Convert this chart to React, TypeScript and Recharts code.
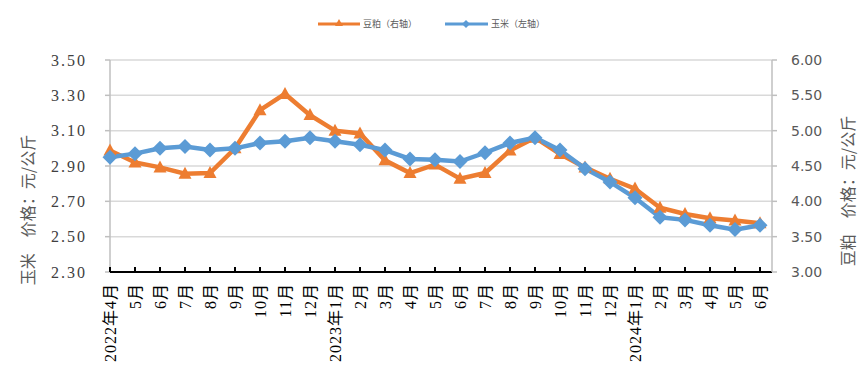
import { LineChart, Line, XAxis, YAxis, CartesianGrid, Legend } from "recharts"

const months = [
  "2022年4月", "5月", "6月", "7月", "8月", "9月", "10月", "11月", "12月",
  "2023年1月", "2月", "3月", "4月", "5月", "6月", "7月", "8月", "9月", "10月", "11月", "12月",
  "2024年1月", "2月", "3月", "4月", "5月", "6月",
]

// 玉米 (左轴)
const corn = [
  2.95, 2.97, 3.0, 3.01, 2.99, 3.0, 3.03, 3.04, 3.06,
  3.04, 3.02, 2.99, 2.94, 2.935, 2.925, 2.975, 3.03, 3.06, 2.99, 2.885, 2.81,
  2.72, 2.61, 2.595, 2.565, 2.54, 2.565,
]

// 豆粕 (右轴)
const soymeal = [
  4.72, 4.55, 4.48, 4.39, 4.4, 4.75, 5.29, 5.52, 5.22,
  5.0, 4.96, 4.58, 4.4, 4.52, 4.32, 4.4, 4.72, 4.9, 4.67, 4.48, 4.32,
  4.18, 3.91, 3.82, 3.76, 3.73, 3.69,
]

const leftTicks = [2.3, 2.5, 2.7, 2.9, 3.1, 3.3, 3.5]
const rightTicks = [3.0, 3.5, 4.0, 4.5, 5.0, 5.5, 6.0]

const data = months.map((m, i) => ({ month: m, corn: corn[i], soymeal: soymeal[i] }))

const ORANGE = "#ED7D31"
const BLUE = "#5B9BD5"
const cjk = '"Noto Sans CJK SC", "Noto Sans", sans-serif'
const serif = '"Liberation Serif", "Noto Sans CJK SC", serif'

const Triangle = (props: any) => {
  const { cx, cy } = props
  if (cx == null || cy == null) return null
  return <path key={props.key} d={`M${cx},${cy - 7} L${cx + 6.5},${cy + 5} L${cx - 6.5},${cy + 5} Z`} fill={ORANGE} />
}

const Diamond = (props: any) => {
  const { cx, cy } = props
  if (cx == null || cy == null) return null
  return <path key={props.key} d={`M${cx},${cy - 7.5} L${cx + 7.5},${cy} L${cx},${cy + 7.5} L${cx - 7.5},${cy} Z`} fill={BLUE} />
}

const MonthTick = (props: any) => {
  const { x, y, payload } = props
  return (
    <g transform={`translate(${x},${y})`}>
      <line x1={0} x2={0} y1={-5} y2={0} stroke="#000" strokeWidth={2} />
      <text
        transform="rotate(-90)"
        x={-11}
        y={0}
        dy="0.35em"
        textAnchor="end"
        fontSize={16}
        letterSpacing={1}
        fontFamily={serif}
        fill="#000"
      >
        {payload.value}
      </text>
    </g>
  )
}

const LegendContent = () => (
  <svg width={865} height={20}>
    <line x1={318} x2={360} y1={10} y2={10} stroke={ORANGE} strokeWidth={3} />
    <path d="M339,5 L343,12 L335,12 Z" fill={ORANGE} />
    <text x={363} y={10} dy="0.35em" fontSize={9} fill="#595959" fontFamily={cjk}>豆粕（右轴）</text>
    <line x1={445} x2={488} y1={10} y2={10} stroke={BLUE} strokeWidth={3} />
    <path d="M466,6 L470,10 L466,14 L462,10 Z" fill={BLUE} />
    <text x={491} y={10} dy="0.35em" fontSize={9} fill="#595959" fontFamily={cjk}>玉米（左轴）</text>
  </svg>
)

export default function App() {
  return (
    <div style={{ position: "absolute", left: 0, top: 0, width: 865, height: 379, background: "#fff" }}>
      <LineChart width={865} height={379} data={data} margin={{ top: 60, right: 0, bottom: 0, left: 0 }}>
        <CartesianGrid yAxisId="left" vertical={false} stroke="#d9d9d9" strokeWidth={1.5} />
        <XAxis
          dataKey="month"
          interval={0}
          height={107}
          tickSize={0}
          tickMargin={0}
          tickLine={false}
          tick={<MonthTick />}
          axisLine={{ stroke: "#000", strokeWidth: 2 }}
          padding={{ left: 0, right: 12 }}
        />
        <YAxis
          yAxisId="left"
          width={110}
          domain={[2.3, 3.5]}
          ticks={leftTicks}
          interval={0}
          tickFormatter={(v: number) => v.toFixed(2)}
          tickSize={5}
          tickMargin={18}
          axisLine={{ stroke: "#bfbfbf", strokeWidth: 1.5 }}
          tickLine={{ stroke: "#bfbfbf", strokeWidth: 1.5 }}
          tick={{ fontSize: 16, fill: "#404040", fontFamily: serif, letterSpacing: 2 }}
          label={() => (
            <text
              x={27}
              y={210}
              transform="rotate(-90 27 210)"
              textAnchor="middle"
              dominantBaseline="central"
              fontSize={16}
              fill="#595959"
              fontFamily={cjk}
            >
              玉米　价格：元/公斤
            </text>
          )}
        />
        <YAxis
          yAxisId="right"
          orientation="right"
          width={93}
          domain={[3, 6]}
          ticks={rightTicks}
          interval={0}
          tickFormatter={(v: number) => v.toFixed(2)}
          tickSize={5}
          tickMargin={14}
          axisLine={{ stroke: "#bfbfbf", strokeWidth: 1.5 }}
          tickLine={{ stroke: "#bfbfbf", strokeWidth: 1.5 }}
          tick={{ fontSize: 14, fill: "#595959", fontFamily: '"DejaVu Sans", sans-serif' }}
          label={() => (
            <text
              x={847}
              y={191}
              transform="rotate(-90 847 191)"
              textAnchor="middle"
              dominantBaseline="central"
              fontSize={16}
              fill="#595959"
              fontFamily={cjk}
            >
              豆粕　价格：元/公斤
            </text>
          )}
        />
        <Legend
          verticalAlign="middle"
          align="center"
          layout="horizontal"
          wrapperStyle={{ top: 14, left: 0, width: 865, height: 20 }}
          content={<LegendContent />}
        />
        <Line
          yAxisId="right"
          dataKey="soymeal"
          name="豆粕（右轴）"
          stroke={ORANGE}
          strokeWidth={4.5}
          dot={<Triangle />}
          isAnimationActive={false}
        />
        <Line
          yAxisId="left"
          dataKey="corn"
          name="玉米（左轴）"
          stroke={BLUE}
          strokeWidth={4.5}
          dot={<Diamond />}
          isAnimationActive={false}
        />
      </LineChart>
    </div>
  )
}
